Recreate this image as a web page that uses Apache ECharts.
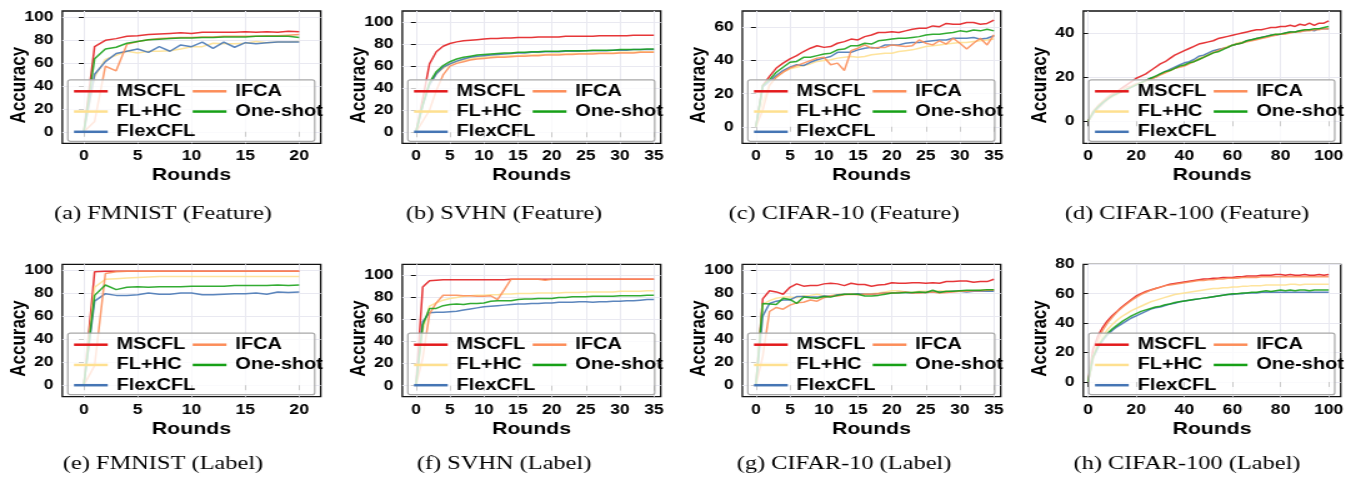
<!DOCTYPE html>
<html><head><meta charset="utf-8">
<script src="https://cdn.jsdelivr.net/npm/echarts@6/dist/echarts.min.js"></script>
<style>
html,body{margin:0;padding:0;background:#fff;overflow:hidden}
#wrap{width:1361px;height:479px;overflow:hidden;position:relative}
#chart{width:1089px;height:479px;transform:scale(1.24977,1);transform-origin:0 0}
</style></head><body>
<div id="wrap"><div id="chart"></div></div>
<script>
// ---------- DATA ----------
const seriesNames = ['MSCFL', 'FL+HC', 'FlexCFL', 'IFCA', 'One-shot'];
const rounds20 = Array.from({length: 21}, (_, i) => i);
const rounds35 = Array.from({length: 36}, (_, i) => i);
const rounds100 = Array.from({length: 51}, (_, i) => i * 2);
const xTicks20 = [0, 5, 10, 15, 20];
const xTicks35 = [0, 5, 10, 15, 20, 25, 30, 35];
const xTicks100 = [0, 20, 40, 60, 80, 100];
const yTicks100 = [0, 20, 40, 60, 80, 100];
const yTicks60 = [0, 20, 40, 60];
const yTicks40 = [0, 20, 40];
const yTicks80 = [0, 20, 40, 60, 80];
const captions = ['(a) FMNIST (Feature)', '(b) SVHN (Feature)', '(c) CIFAR-10 (Feature)', '(d) CIFAR-100 (Feature)',
                  '(e) FMNIST (Label)', '(f) SVHN (Label)', '(g) CIFAR-10 (Label)', '(h) CIFAR-100 (Label)'];

// (a) FMNIST Feature
const aMSCFL = [0,74,79.5,81,83,83.5,84.5,85,85.5,86,85.5,86.5,86.5,86.5,86.5,87,86.5,87,86.5,87.5,87];
const aFLHC  = [0,48,63,66.5,70,68.5,70,70,70.5,72,74,74,77,76.5,76.5,77,78.5,77.5,78,78,78.5];
const aFlex  = [0,50,61,68,70,72,69,74,70,75.5,74,78,72.5,78,73.5,77.5,76.5,77.5,78,78,78];
const aIFCA  = [0,9,57,53,76,78.5,80,81,81.5,82,82,82.5,82.5,83,83,83,83,83.5,83.5,84,84.5];
const aOne   = [0,63.5,72,73.5,77,78.5,80,80.5,81,81.5,81.5,82,82,82.5,82.5,82.5,83,83,83,83,82];
// (b) SVHN Feature
const bMSCFL = [0,30,62,73,78,80.5,82,83,83.5,84,84.5,85,85,85.5,85.5,86,86,86,86.5,86.5,86.5,86.5,87,87,87,87,87,87.5,87.5,87.5,87.5,87.5,88,88,88,88];
const bFLHC  = [0,25,44,53,58,62,64,65.5,66.5,67.5,68,68.5,69,69,69.5,69.5,70,70,70.5,70.5,71,71,71,71.5,71.5,71.5,72,72,72,72,72.5,72.5,72.5,73,73,73];
const bFlex  = [0,24,43,53,59,62,64.5,66.5,68,69,69.5,70,70.5,71,71.5,72,72,72.5,72.5,73,73,73,73.5,73.5,73.5,74,74,74,74,74.5,74.5,74.5,75,75,75,75];
const bIFCA  = [0,10,20,38,52,60,62.5,64,65.5,66.5,67,67.5,68,68,68.5,69,69,69.5,69.5,70,70,70,70.5,70.5,71,71,71,71.5,71.5,71.5,72,72,72,72.5,72.5,72.5];
const bOne   = [0,25,45,55,60.5,64,66.5,68,69,70,70.5,71,71.5,72,72,72.5,72.5,73,73,73.5,73.5,73.5,74,74,74,74,74.5,74.5,74.5,74.5,75,75,75,75,75.5,75.5];
// (c) CIFAR-10 Feature
const cMSCFL = [0,25,30.5,35.5,38.5,41,43,45.5,47.5,49,48,48.5,50.5,51.5,53,52.5,54.5,55.5,57,57,57.5,57,58,59,59.5,59.5,61,60.5,62.5,62,62,63,63,62,62.5,64.5];
const cFLHC  = [0,15,25.5,30,33,35,36,37,38,39.5,40,40.5,41.5,42,42.5,42,42.5,43.5,44,44.5,44.5,45.5,46,46.5,47.5,48.5,49,49.5,50,50.5,51,51,51.5,52,52.5,53];
const cFlex  = [0,24,27.5,31,34,36,37.5,37,39,40.5,41.5,42.5,45,45,45,46.5,47.5,48,47.5,49.5,49.5,49.5,50.5,51,51,51.5,52,52.5,52.5,53.5,53.5,53.5,54,53,53.5,55];
const cIFCA  = [0,10,25,30,33,35.5,37,38.5,40,41.5,42,37.5,38.5,34,46,47.5,49.5,47.5,48,48,49.5,49,48.5,49,52.5,50.5,49.5,52,50,53.5,50.5,47,50.5,53.5,49.5,55.5];
const cOne   = [0,25,28.5,33,36,39,39.5,42,42,43,44,44.5,46.5,47,49,49,50.5,50,52,52.5,53,53.5,53.5,54,54.5,55.5,56,56,56.5,57,58,57.5,58.5,58,59,58];
// (d) CIFAR-100 Feature (every 2 rounds)
const dMSCFL = [0,3.5,6,8.5,10.5,12,13.5,15,16.5,18,19.5,20.5,21.5,23,24.5,26,27,28.5,30,31,32,33,34,35,35.5,36,36.5,37.5,38,38.5,39,39.5,40,40.5,41,41.5,41.5,42,42.5,42.5,43,43,43.5,43,44,43.5,44.5,43.5,44.5,44.5,45.5];
const dFLHC  = [0,3,5.5,7.5,9.5,11,12,13.5,14.5,15.5,16.5,17.5,18,19,20,21,22,23,24,25,25.5,26.5,27.5,28.5,29.5,30.5,31.5,32.5,33,34,34.5,35.5,36,36.5,37,37.5,38,38.5,39,39.5,39.5,40,40.5,40.5,41,41.5,41.5,41.5,42,42,42];
const dFlex  = [0,3.5,6,8,10,11.5,12.5,13.5,14.5,15.5,16.5,17.5,18.5,19.5,20,21.5,22.5,23.5,24.5,25.5,26.5,27,28,29.5,30,31,32,32.5,33,33.5,34.5,35,35.5,36.5,37,37.5,38,38.5,39,39,39.5,40,40.5,40.5,41,41,41.5,41,42,42,42];
const dIFCA  = [0,4.5,7,9,11,12.5,13.5,14.5,15.5,16,17,17.5,18.5,19,20,21,22,23,24,24.5,25,26,27,28,29,30,31,32,33,33.5,34.5,35,35.5,36,36.5,37,37.5,38,38.5,39,39.5,39.5,40,40.5,40.5,41,41,41.5,41.5,42,42];
const dOne   = [0,4,6.5,8.5,10,11.5,12.5,13.5,14.5,15.5,16.5,17.5,18.5,19.5,20.5,21.5,22.5,23,24,25,25.5,26.5,27,28,29,30,31,31.5,32.5,33.5,34.5,35,35.5,36.5,37,37.5,38,38.5,39,39.5,39.5,40,40.5,40.5,41,41.5,41.5,42,42,42.5,43];
// (e) FMNIST Label
const eMSCFL = [0,98.5,99,99,99,99,99,99,99,99,99,99,99,99,99,99,99,99,99,99,99];
const eFLHC  = [0,85,92,92.5,93,93.5,94,94.5,94.5,94.5,94.5,94.5,94.5,94.5,94.5,94.5,94.5,94.5,94.5,94.5,94.5];
const eFlex  = [0,73,79.5,78,78,78.5,80,79,79,80,80,78.5,78.5,79,79.5,79.5,80,79,81,80.5,81];
const eIFCA  = [0,17,97,98.5,99,99,99,99,99,99,99,99,99,99,99,99,99,99,99,99,99];
const eOne   = [0,78,87,83,85,85.5,85,85.5,85.5,85.5,86,86,86,86,86.5,86.5,86.5,86.5,87,86.5,87];
// (f) SVHN Label
const fMSCFL = [0,89.5,95,95.5,96,96,96,96,96,96,96,96,96,96,96.5,96.5,96.5,96.5,96.5,96.5,96.5,96.5,96.5,96.5,96.5,96.5,96.5,96.5,96.5,96.5,96.5,96.5,96.5,96.5,96.5,96.5];
const fFLHC  = [0,50,72,75,77.5,79,80,81,81.5,82,82,82.5,82.5,83,83,83.5,83.5,83.5,84,84,84,84,84.5,84.5,84.5,85,85,85,85,85,85.5,85.5,85.5,85.5,86,86];
const fFlex  = [0,58,66,66.5,66.5,67,67.5,68.5,69.5,70.5,71.5,72,72.5,73,73.5,74,74,74.5,74.5,75,75,75.5,75.5,75.5,76,76,75.5,76,76,76.5,76.5,77,77,77.5,78,78];
const fIFCA  = [0,25,65,75,82,82,82,81.5,81.5,81,81,81.5,78,87,96.5,96.5,96.5,96.5,96.5,95.5,96.5,96.5,96.5,96.5,96.5,96.5,96.5,96.5,96.5,96.5,96.5,96.5,96.5,96.5,96.5,96.5];
const fOne   = [0,55,70,70,72.5,73.5,74,73.5,74.5,74.5,75,76.5,77,77,77,78,78.5,78.5,79,79,79,80,80,80.5,80.5,80.5,81,81,81,81,81.5,81.5,81.5,81.5,82,82];
// (g) CIFAR-10 Label
const gMSCFL = [0,75,82,81,79,85,88,86,86.5,86.5,88,88.5,88,86.5,88.5,87.5,87.5,86,87,87.5,89,88.5,88.5,89,89,88.5,89,88.5,90,90,90.5,90.5,89.5,90,90,92];
const gFLHC  = [0,70,73.5,75.5,76.5,76.5,76,77.5,78,79,77.5,78,79,79,79.5,79,79.5,79.5,80,81,82,82,81,80.5,81.5,81.5,81,82,81.5,81.5,82,82,82,82.5,82.5,83];
const gFlex  = [0,60,71,73,74,74,77,77,76.5,76.5,77.5,77,78.5,79,79,79.5,79,79,79.5,80,80,80.5,80.5,80,80.5,80.5,81,81,81,81.5,81.5,81,81.5,81.5,81.5,81.5];
const gIFCA  = [0,25,64,67.5,66,69.5,71.5,72,74,73,76,77.5,77.5,78.5,79,78.5,79,79,79.5,80,80,80.5,81,80,80,80.5,81,80,80.5,81,81.5,81.5,82,82,82.5,82.5];
const gOne   = [0,71,70.5,70,75.5,74.5,71,76.5,76,75.5,77,76.5,78,79,79,79,77.5,77.5,78,79,80,80,80.5,80.5,81,80.5,82.5,80.5,81.5,81.5,82,82.5,82.5,82.5,83,83];
// (h) CIFAR-100 Label (every 2 rounds)
const hMSCFL = [0,22,31,37,41.5,45,48,51,53.5,56,58.5,60,61.5,62.5,63.5,64.5,65.5,66.5,67,67.5,68,68.5,69,69.5,70,70,70.5,70.5,71,71,71,71.5,71.5,72,72,72,72.5,72.5,72.5,73,73,72.5,73,72.5,72.5,73,72.5,72.5,73,72.5,73];
const hFLHC  = [0,17,25,31,35.5,39,42,44.5,46.5,48.5,50,51.5,53,54.5,55.5,56.5,57.5,58.5,59.5,60,60.5,61,61.5,62,62.5,63,63.5,63.5,64,64,64.5,64.5,65,65,65.5,65.5,65.5,66,66,66,66,66,66.5,66.5,66,66.5,66.5,66.5,66.5,66.5,66.5];
const hFlex  = [0,16,23,28,32,35,37.5,39.5,41.5,43.5,45,46.5,48,49.5,50.5,51,52,53,53.5,54.5,55,55.5,56,56.5,57,57.5,58,58.5,59,59.5,59.5,60,60,60.5,60.5,60.5,61,61,61,61,61,61,61,61,61,61,61,61,61,61,61];
const hIFCA  = [0,15,28,35,40,44,47.5,50.5,53,55.5,57.5,59.5,61,62.5,63.5,64.5,65.5,66,66.5,67,67.5,68,68.5,69,69,69.5,69.5,70,70,70.5,70.5,70.5,71,71,71,71,71.5,71.5,71.5,71.5,71.5,71.5,71.5,71.5,71.5,71.5,71.5,71.5,71.5,71.5,71.5];
const hOne   = [0,17,24,29,33,36,38.5,41,43,45,46.5,48,49,50,51,51.5,52.5,53,54,54.5,55,55.5,56,56.5,57,57.5,58,58.5,59,59.5,60,60,60.5,60.5,61,61,61.5,62,61.5,62,62.5,62,62.5,62,62.5,62.5,62,62.5,62.5,62.5,62.5];

// ---------- LAYOUT / STYLE ----------
const S = 1361 / 1089;
const colors = ['#e31a1c', '#fee090', '#4575b4', '#fc8d59', '#17a017'];
const FONT = '"Liberation Sans", Arial, Helvetica, sans-serif';
const colL = [62.3, 402.3, 742.3, 1083.3], colR = [320.7, 660.7, 1000.7, 1340.7];
const rowT = [11, 264.3], rowB = [143.3, 396.7];
const capX = [163, 504, 844, 1187], capY = [214, 464];

const panels = [
  {x: rounds20, d: [aMSCFL, aFLHC, aFlex, aIFCA, aOne], xr: [-2, 22], xt: xTicks20, yr: [-10, 105], yt: yTicks100},
  {x: rounds35, d: [bMSCFL, bFLHC, bFlex, bIFCA, bOne], xr: [-2, 36], xt: xTicks35, yr: [-10, 110], yt: yTicks100},
  {x: rounds35, d: [cMSCFL, cFLHC, cFlex, cIFCA, cOne], xr: [-2, 36], xt: xTicks35, yr: [-10, 70], yt: yTicks60},
  {x: rounds100, d: [dMSCFL, dFLHC, dFlex, dIFCA, dOne], xr: [-2, 105], xt: xTicks100, yr: [-10, 50], yt: yTicks40},
  {x: rounds20, d: [eMSCFL, eFLHC, eFlex, eIFCA, eOne], xr: [-2, 22], xt: xTicks20, yr: [-10, 105], yt: yTicks100},
  {x: rounds35, d: [fMSCFL, fFLHC, fFlex, fIFCA, fOne], xr: [-2, 36], xt: xTicks35, yr: [-10, 110], yt: yTicks100},
  {x: rounds35, d: [gMSCFL, gFLHC, gFlex, gIFCA, gOne], xr: [-2, 36], xt: xTicks35, yr: [-10, 105], yt: yTicks100},
  {x: rounds100, d: [hMSCFL, hFLHC, hFlex, hIFCA, hOne], xr: [-2, 105], xt: xTicks100, yr: [-10, 80], yt: yTicks80}
];

const grid = [], xAxis = [], yAxis = [], series = [], legend = [], elements = [];
const labelStyle = {fontFamily: FONT, fontWeight: 'bold', fontSize: 14, color: '#000'};
const nameStyle = {fontFamily: FONT, fontWeight: 'bold', fontSize: 17, color: '#000'};
const splitStyle = {show: true, lineStyle: {color: '#e9e9f1', width: 1}};

panels.forEach((p, i) => {
  const c = i % 4, r = Math.floor(i / 4);
  const L = colL[c], R = colR[c], T = rowT[r], B = rowB[r];
  grid.push({left: L / S, top: T, width: (R - L) / S, height: B - T, show: true,
    borderColor: '#111', borderWidth: 1.3, backgroundColor: 'transparent', outerBoundsMode: 'none', containLabel: false});
  xAxis.push({gridIndex: i, type: 'value', min: p.xr[0], max: p.xr[1],
    name: 'Rounds', nameLocation: 'middle', nameGap: 24, nameMoveOverlap: false, nameTextStyle: nameStyle,
    axisLine: {show: false},
    axisTick: {show: true, inside: false, length: 5, customValues: p.xt, lineStyle: {color: '#111', width: 1}},
    axisLabel: Object.assign({customValues: p.xt, margin: 6}, labelStyle),
    splitLine: splitStyle});
  yAxis.push({gridIndex: i, type: 'value', min: p.yr[0], max: p.yr[1],
    name: 'Accuracy', nameLocation: 'middle', nameGap: 26, nameRotate: 90, nameMoveOverlap: false,
    nameTextStyle: Object.assign({padding: [0, 16, 0, 0]}, nameStyle),
    axisLine: {show: false},
    axisTick: {show: true, inside: false, length: 4, customValues: p.yt, lineStyle: {color: '#111', width: 1}},
    axisLabel: Object.assign({customValues: p.yt, margin: 7}, labelStyle),
    splitLine: splitStyle});
  seriesNames.forEach((name, k) => {
    series.push({type: 'line', name: name, xAxisIndex: i, yAxisIndex: i,
      data: p.x.map((xv, j) => [xv, p.d[k][j]]),
      symbol: 'none', showSymbol: false, color: colors[k],
      lineStyle: {width: 1.5, color: colors[k], opacity: 0.88},
      z: 2 + k * 0.1, animation: false, silent: true});
  });
  // legend box
  const boxTop = B - 63.5;
  elements.push({type: 'rect', z: 3, silent: true,
    x: (L + 5.5) / S, y: boxTop,
    shape: {x: 0, y: 0, width: (R - L - 11.5) / S, height: 61.5, r: 2},
    style: {fill: 'rgba(255,255,255,0.78)', stroke: '#a8a8a8', lineWidth: 1.2}});
  const legBase = {orient: 'vertical', top: boxTop + 3.5, itemWidth: 27, itemHeight: 2.5, itemGap: 4.25,
    icon: 'rect', padding: 0, z: 6, selectedMode: false,
    textStyle: {fontFamily: FONT, fontWeight: 'bold', fontSize: 16, color: '#000', padding: [0, 0, 0, 2]}};
  legend.push(Object.assign({data: ['MSCFL', 'FL+HC', 'FlexCFL'], left: (L + 11.7) / S}, legBase));
  legend.push(Object.assign({data: ['IFCA', 'One-shot'], left: (L + 130.4) / S}, legBase));
  // caption
  elements.push({type: 'text', z: 10, silent: true, x: capX[c] / S, y: capY[r],
    style: {text: captions[i], font: '19.5px "Liberation Serif", "Times New Roman", serif', fill: '#000',
      align: 'center', verticalAlign: 'middle', textAlign: 'center', textVerticalAlign: 'middle'}});
});

const chart = echarts.init(document.getElementById('chart'), null, {renderer: 'canvas'});
chart.setOption({animation: false, backgroundColor: '#fff', grid, xAxis, yAxis, series, legend,
  graphic: {elements: elements}});
</script>
</body></html>
